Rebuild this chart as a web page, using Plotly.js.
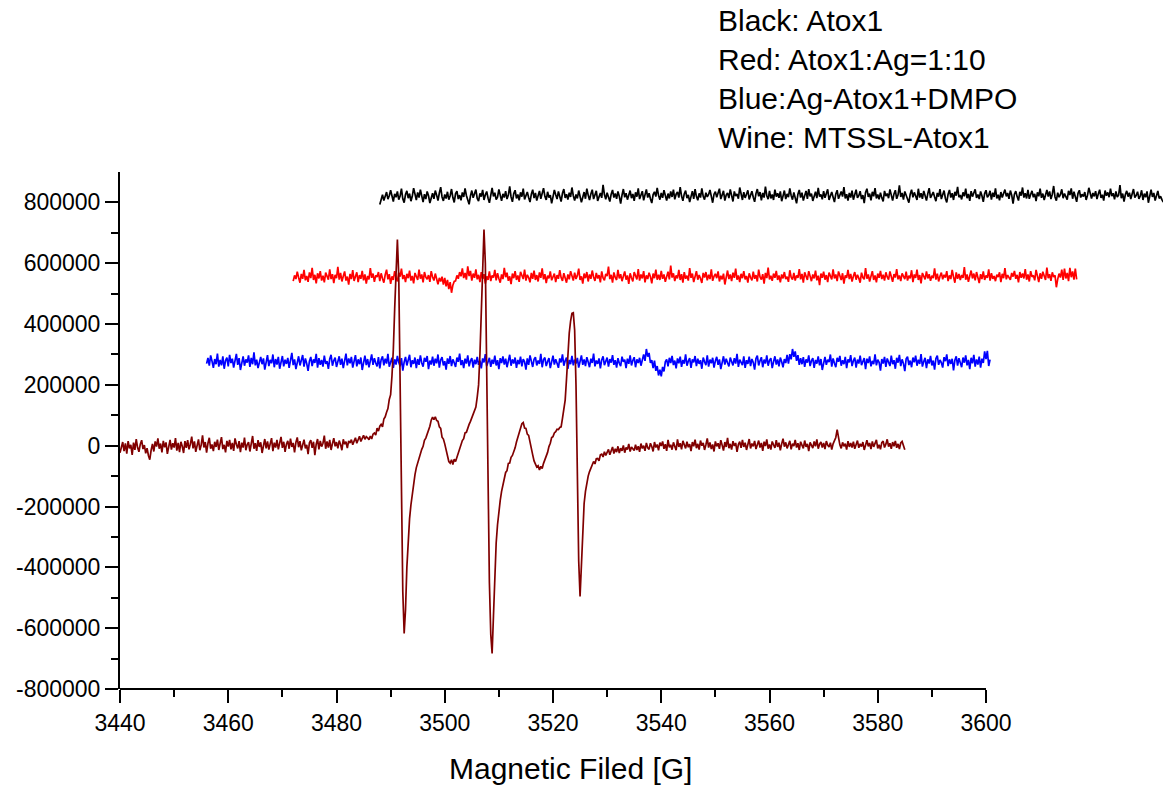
<!DOCTYPE html>
<html>
<head>
<meta charset="utf-8">
<script src="https://cdn.plot.ly/plotly-3.0.1.min.js"></script>
<style>html,body{margin:0;padding:0;background:#fff;}#chart{width:1167px;height:786px;}</style>
</head>
<body>
<div id="chart"></div>
<script>
// Field sweep settings (Gauss) for each spectrum
const fieldStep = 0.25;
const blackStart = 3488;
const redStart = 3472;
const blueStart = 3456;
const wineStart = 3440;

const seriesNames = ["Atox1", "Atox1:Ag=1:10", "Ag-Atox1+DMPO", "MTSSL-Atox1"];
const seriesColors = ["#000000", "#ff0000", "#0000ff", "#800000"];

// Black: Atox1
const blackY = [
793e3,812e3,825e3,806e3,818e3,834e3,811e3,822e3,840e3,815e3,
803e3,828e3,817e3,836e3,809e3,821e3,845e3,812e3,799e3,826e3,
838e3,814e3,829e3,804e3,820e3,847e3,825e3,808e3,833e3,816e3,
842e3,819e3,801e3,827e3,811e3,836e3,822e3,798e3,817e3,830e3,
812e3,839e3,824e3,806e3,831e3,850e3,818e3,805e3,826e3,813e3,
835e3,809e3,822e3,844e3,816e3,800e3,829e3,837e3,811e3,824e3,
807e3,833e3,818e3,846e3,823e3,810e3,794e3,821e3,839e3,815e3,
826e3,842e3,813e3,804e3,830e3,819e3,841e3,808e3,825e3,836e3,
814e3,799e3,823e3,848e3,820e3,832e3,809e3,817e3,843e3,822e3,
805e3,828e3,816e3,837e3,811e3,824e3,853e3,818e3,802e3,829e3,
840e3,813e3,826e3,807e3,833e3,819e3,845e3,810e3,822e3,834e3,
816e3,801e3,827e3,842e3,814e3,831e3,806e3,823e3,838e3,812e3,
829e3,847e3,820e3,808e3,835e3,816e3,824e3,797e3,818e3,841e3,
825e3,811e3,836e3,819e3,803e3,830e3,844e3,815e3,827e3,809e3,
832e3,818e3,849e3,822e3,806e3,826e3,813e3,839e3,821e3,800e3,
817e3,834e3,812e3,845e3,824e3,808e3,828e3,842e3,811e3,823e3,
838e3,805e3,820e3,831e3,815e3,858e3,826e3,810e3,832e3,818e3,
803e3,827e3,841e3,816e3,829e3,812e3,836e3,820e3,796e3,824e3,
844e3,817e3,830e3,809e3,822e3,839e3,814e3,828e3,805e3,833e3,
819e3,846e3,811e3,825e3,837e3,807e3,821e3,843e3,816e3,830e3,
812e3,798e3,826e3,835e3,819e3,848e3,823e3,809e3,831e3,815e3,
840e3,822e3,806e3,829e3,813e3,836e3,818e3,842e3,810e3,827e3,
834e3,816e3,850e3,821e3,805e3,828e3,839e3,814e3,825e3,801e3,
823e3,837e3,812e3,844e3,819e3,807e3,830e3,816e3,846e3,820e3,
809e3,832e3,818e3,826e3,841e3,813e3,799e3,827e3,835e3,817e3,
829e3,845e3,811e3,822e3,838e3,806e3,824e3,831e3,814e3,843e3,
818e3,803e3,836e3,821e3,828e3,812e3,849e3,825e3,808e3,834e3,
815e3,827e3,840e3,810e3,823e3,837e3,817e3,802e3,829e3,844e3,
820e3,834e3,807e3,831e3,816e3,852e3,822e3,811e3,838e3,813e3,
826e3,808e3,842e3,819e3,830e3,815e3,836e3,804e3,821e3,839e3,
811e3,828e3,817e3,846e3,823e3,809e3,833e3,818e3,797e3,827e3,
841e3,816e3,832e3,806e3,825e3,838e3,812e3,844e3,820e3,829e3,
805e3,822e3,835e3,814e3,848e3,819e3,826e3,810e3,837e3,815e3,
830e3,843e3,808e3,821e3,834e3,817e3,801e3,828e3,840e3,812e3,
824e3,836e3,819e3,850e3,813e3,827e3,806e3,831e3,816e3,839e3,
809e3,826e3,842e3,815e3,822e3,837e3,811e3,824e3,798e3,833e3,
845e3,818e3,829e3,807e3,835e3,820e3,847e3,813e3,826e3,810e3,
832e3,815e3,803e3,838e3,821e3,829e3,814e3,843e3,819e3,806e3,
828e3,840e3,812e3,825e3,856e3,818e3,831e3,809e3,836e3,822e3,
814e3,799e3,827e3,842e3,817e3,833e3,821e3,808e3,845e3,816e3,
830e3,812e3,838e3,823e3,806e3,829e3,847e3,815e3,826e3,834e3,
818e3,804e3,831e3,819e3,844e3,811e3,825e3,839e3,813e3,800e3,
827e3,841e3,816e3,830e3,808e3,835e3,822e3,851e3,817e3,824e3,
810e3,833e3,820e3,845e3,814e3,828e3,805e3,837e3,819e3,831e3,
843e3,815e3,826e3,811e3,836e3,822e3,802e3,829e3,840e3,817e3,
823e3,838e3,809e3,832e3,818e3,846e3,813e3,825e3,807e3,834e3,
816e3,829e3,842e3,820e3,831e3,812e3,839e3,824e3,796e3,827e3,
837e3,819e3,806e3,835e3,822e3,849e3,816e3,830e3,813e3,841e3,
812e3,826e3,838e3,817e3,828e3,804e3,833e3,820e3,845e3,815e3,
829e3,808e3,823e3,841e3,819e3,836e3,811e3,827e3,854e3,818e3,
806e3,832e3,817e3,826e3,843e3,814e3,829e3,821e3,809e3,838e3,
824e3,846e3,812e3,835e3,818e3,802e3,830e3,840e3,816e3,827e3,
819e3,834e3,808e3,823e3,848e3,826e3,813e3,831e3,820e3,837e3,
811e3,828e3,842e3,815e3,825e3,806e3,839e3,822e3,833e3,817e3,
845e3,821e3,830e3,810e3,836e3,818e3,824e3,857e3,814e3,829e3,
803e3,826e3,838e3,819e3,832e3,811e3,827e3,844e3,816e3,823e3,
835e3,812e3,821e3,840e3,808e3,829e3,817e3,836e3,799e3,825e3,
842e3,818e3,831e3,806e3,824e3,838e3,813e3,820e3,809e3,801e3
];

// Red: Atox1:Ag=1:10
const redY = [
541e3,560e3,548e3,572e3,553e3,536e3,565e3,549e3,578e3,544e3,
558e3,539e3,570e3,551e3,585e3,545e3,562e3,534e3,567e3,550e3,
574e3,543e3,559e3,537e3,569e3,555e3,546e3,580e3,548e3,564e3,
535e3,562e3,551e3,588e3,546e3,568e3,540e3,557e3,573e3,543e3,
556e3,530e3,565e3,548e3,577e3,542e3,559e3,570e3,538e3,561e3,
549e3,575e3,544e3,563e3,533e3,558e3,547e3,584e3,552e3,566e3,
539e3,560e3,555e3,571e3,541e3,567e3,550e3,536e3,562e3,579e3,
547e3,564e3,532e3,557e3,545e3,574e3,553e3,540e3,569e3,556e3,
582e3,548e3,561e3,538e3,565e3,551e3,576e3,543e3,558e3,534e3,
568e3,552e3,545e3,579e3,549e3,563e3,537e3,571e3,554e3,547e3,
561e3,539e3,574e3,555e3,543e3,566e3,548e3,531e3,552e3,540e3,
556e3,530e3,552e3,524e3,545e3,515e3,538e3,503e3,528e3,540e3,
542e3,560e3,549e3,571e3,557e3,583e3,551e3,568e3,546e3,590e3,
558e3,575e3,543e3,566e3,552e3,580e3,547e3,562e3,538e3,571e3,
549e3,564e3,533e3,557e3,545e3,573e3,541e3,560e3,553e3,578e3,
544e3,567e3,550e3,536e3,563e3,548e3,585e3,554e3,569e3,542e3,
557e3,531e3,566e3,551e3,574e3,545e3,560e3,539e3,572e3,556e3,
548e3,579e3,543e3,562e3,553e3,537e3,568e3,549e3,576e3,545e3,
561e3,540e3,570e3,552e3,583e3,547e3,564e3,535e3,559e3,550e3,
573e3,544e3,558e3,566e3,538e3,561e3,549e3,577e3,553e3,542e3,
567e3,551e3,536e3,563e3,547e3,574e3,556e3,543e3,569e3,548e3,
560e3,582e3,545e3,557e3,533e3,566e3,551e3,571e3,540e3,563e3,
549e3,576e3,555e3,542e3,568e3,550e3,561e3,537e3,573e3,552e3,
544e3,565e3,558e3,589e3,548e3,562e3,536e3,570e3,553e3,545e3,
578e3,550e3,564e3,541e3,557e3,573e3,546e3,560e3,532e3,567e3,
552e3,540e3,571e3,555e3,547e3,581e3,543e3,563e3,550e3,574e3,
537e3,560e3,548e3,569e3,556e3,534e3,566e3,551e3,579e3,546e3,
562e3,545e3,575e3,549e3,563e3,539e3,558e3,572e3,547e3,592e3,
553e3,567e3,541e3,560e3,550e3,578e3,545e3,564e3,536e3,571e3,
549e3,559e3,543e3,584e3,552e3,566e3,538e3,557e3,574e3,546e3,
561e3,550e3,535e3,568e3,553e3,571e3,544e3,562e3,548e3,580e3,
542e3,557e3,565e3,551e3,573e3,540e3,559e3,547e3,566e3,530e3,
555e3,576e3,548e3,563e3,541e3,569e3,552e3,582e3,546e3,560e3,
538e3,565e3,551e3,574e3,547e3,558e3,536e3,567e3,553e3,544e3,
572e3,549e3,561e3,540e3,579e3,555e3,546e3,564e3,533e3,568e3,
551e3,586e3,547e3,559e3,542e3,566e3,552e3,575e3,545e3,560e3,
537e3,563e3,550e3,571e3,548e3,556e3,539e3,577e3,554e3,546e3,
568e3,543e3,560e3,552e3,581e3,547e3,565e3,536e3,570e3,553e3,
545e3,574e3,558e3,541e3,563e3,550e3,576e3,544e3,559e3,528e3,
566e3,552e3,572e3,546e3,561e3,538e3,569e3,555e3,547e3,580e3,
550e3,563e3,541e3,573e3,554e3,545e3,567e3,533e3,560e3,552e3,
578e3,548e3,565e3,540e3,557e3,571e3,546e3,562e3,551e3,536e3,
569e3,553e3,547e3,584e3,549e3,563e3,540e3,558e3,574e3,545e3,
560e3,537e3,566e3,552e3,575e3,548e3,562e3,543e3,570e3,555e3,
546e3,573e3,551e3,539e3,564e3,553e3,581e3,547e3,560e3,541e3,
567e3,555e3,548e3,572e3,543e3,559e3,550e3,577e3,538e3,563e3,
552e3,579e3,545e3,561e3,534e3,568e3,556e3,547e3,573e3,550e3,
564e3,542e3,559e3,551e3,583e3,546e3,566e3,540e3,557e3,569e3,
547e3,562e3,553e3,574e3,541e3,560e3,548e3,578e3,555e3,536e3,
570e3,549e3,565e3,545e3,561e3,552e3,587e3,546e3,563e3,539e3,
558e3,576e3,550e3,566e3,544e3,571e3,553e3,535e3,564e3,548e3,
573e3,545e3,560e3,552e3,580e3,543e3,567e3,549e3,558e3,541e3,
562e3,555e3,570e3,538e3,565e3,551e3,584e3,547e3,561e3,553e3,
545e3,568e3,556e3,575e3,549e3,562e3,537e3,571e3,552e3,566e3,
550e3,581e3,546e3,563e3,540e3,574e3,555e3,560e3,544e3,578e3,
553e3,538e3,567e3,549e3,572e3,557e3,545e3,586e3,551e3,564e3,
542e3,570e3,555e3,560e3,521e3,548e3,566e3,553e3,579e3,545e3,
582e3,550e3,568e3,541e3,585e3,554e3,573e3,546e3,582e3,547e3
];

// Blue: Ag-Atox1+DMPO
const blueY = [
270e3,289e3,263e3,297e3,278e3,256e3,285e3,268e3,303e3,260e3,
282e3,264e3,294e3,253e3,280e3,290e3,261e3,299e3,272e3,286e3,
257e3,281e3,302e3,266e3,288e3,249e3,276e3,294e3,263e3,284e3,
273e3,297e3,259e3,289e3,268e3,307e3,264e3,283e3,255e3,280e3,
292e3,268e3,287e3,250e3,277e3,298e3,262e3,282e3,271e3,300e3,
258e3,285e3,267e3,292e3,253e3,279e3,295e3,261e3,283e3,269e3,
289e3,256e3,277e3,305e3,265e3,284e3,252e3,280e3,294e3,264e3,
281e3,298e3,260e3,287e3,270e3,246e3,278e3,292e3,262e3,284e3,
272e3,302e3,257e3,288e3,266e3,282e3,260e3,296e3,269e3,278e3,
253e3,285e3,299e3,263e3,280e3,290e3,259e3,276e3,294e3,266e3,
286e3,255e3,279e3,303e3,264e3,287e3,271e3,292e3,257e3,281e3,
298e3,261e3,284e3,268e3,290e3,249e3,277e3,296e3,265e3,285e3,
258e3,280e3,300e3,266e3,288e3,272e3,261e3,291e3,254e3,283e3,
294e3,264e3,286e3,270e3,302e3,260e3,279e3,289e3,256e3,284e3,
267e3,295e3,274e3,261e3,288e3,247e3,275e3,292e3,264e3,283e3,
299e3,258e3,281e3,269e3,290e3,255e3,285e3,266e3,297e3,272e3,
260e3,289e3,276e3,295e3,252e3,280e3,267e3,293e3,263e3,286e3,
271e3,300e3,257e3,282e3,291e3,264e3,278e3,250e3,287e3,269e3,
295e3,262e3,284e3,273e3,259e3,290e3,276e3,303e3,265e3,281e3,
255e3,286e3,270e3,297e3,261e3,279e3,288e3,257e3,283e3,268e3,
292e3,266e3,280e3,254e3,287e3,274e3,301e3,262e3,278e3,289e3,
259e3,283e3,269e3,296e3,264e3,281e3,252e3,288e3,272e3,294e3,
267e3,286e3,258e3,279e3,299e3,263e3,284e3,270e3,290e3,256e3,
282e3,268e3,293e3,261e3,285e3,276e3,250e3,287e3,266e3,297e3,
273e3,259e3,284e3,291e3,264e3,280e3,269e3,302e3,258e3,283e3,
290e3,262e3,277e3,288e3,255e3,281e3,296e3,267e3,284e3,271e3,
256e3,287e3,274e3,300e3,263e3,279e3,290e3,253e3,282e3,268e3,
295e3,264e3,283e3,270e3,289e3,257e3,278e3,297e3,266e3,284e3,
262e3,291e3,275e3,258e3,286e3,272e3,303e3,261e3,280e3,269e3,
287e3,254e3,282e3,294e3,265e3,279e3,290e3,260e3,285e3,273e3,
298e3,266e3,281e3,257e3,288e3,271e3,262e3,293e3,276e3,283e3,
255e3,286e3,269e3,297e3,264e3,280e3,291e3,258e3,284e3,272e3,
289e3,263e3,284e3,300e3,279e3,318e3,293e3,305e3,272e3,281e3,
255e3,280e3,246e3,262e3,231e3,250e3,228e3,259e3,244e3,276e3,
284e3,261e3,289e3,272e3,295e3,265e3,280e3,254e3,287e3,271e3,
293e3,259e3,282e3,270e3,300e3,263e3,278e3,288e3,256e3,284e3,
274e3,295e3,262e3,286e3,269e3,281e3,253e3,290e3,276e3,265e3,
297e3,260e3,283e3,271e3,289e3,257e3,279e3,292e3,266e3,284e3,
252e3,280e3,294e3,267e3,286e3,273e3,261e3,290e3,278e3,264e3,
288e3,270e3,302e3,259e3,283e3,275e3,265e3,294e3,256e3,281e3,
269e3,293e3,262e3,285e3,274e3,250e3,287e3,296e3,264e3,279e3,
291e3,258e3,283e3,270e3,297e3,263e3,281e3,288e3,255e3,276e3,
294e3,267e3,284e3,261e3,290e3,276e3,258e3,285e3,272e3,299e3,
270e3,301e3,284e3,318e3,292e3,310e3,279e3,298e3,266e3,288e3,
268e3,291e3,259e3,284e3,273e3,297e3,262e3,279e3,288e3,256e3,
282e3,270e3,294e3,264e3,285e3,249e3,278e3,292e3,266e3,283e3,
275e3,300e3,260e3,287e3,271e3,258e3,289e3,276e3,295e3,263e3,
281e3,268e3,292e3,255e3,284e3,274e3,298e3,262e3,279e3,290e3,
257e3,283e3,270e3,296e3,265e3,280e3,288e3,252e3,286e3,272e3,
294e3,261e3,279e3,268e3,300e3,264e3,283e3,274e3,247e3,285e3,
270e3,292e3,259e3,287e3,276e3,262e3,296e3,268e3,281e3,253e3,
289e3,273e3,299e3,262e3,284e3,270e3,245e3,286e3,293e3,265e3,
280e3,258e3,290e3,274e3,296e3,263e3,283e3,269e3,301e3,260e3,
277e3,289e3,255e3,284e3,270e3,295e3,264e3,280e3,250e3,287e3,
296e3,266e3,282e3,273e3,257e3,291e3,278e3,300e3,262e3,284e3,
269e3,286e3,248e3,281e3,294e3,263e3,288e3,275e3,258e3,290e3,
273e3,297e3,264e3,282e3,252e3,289e3,271e3,299e3,260e3,284e3,
267e3,293e3,257e3,286e3,272e3,310e3,285e3,312e3,262e3,283e3
];

// Wine: MTSSL-Atox1
const wineY = [
-23e3,-5e3,12e3,-18e3,8e3,-26e3,15e3,-9e3,3e3,-30e3,
10e3,-14e3,22e3,-6e3,-20e3,5e3,18e3,-11e3,2e3,-25e3,
-8e3,-32e3,-46e3,-15e3,6e3,-19e3,14e3,-3e3,24e3,-10e3,
7e3,-22e3,16e3,-5e3,11e3,-27e3,4e3,19e3,-13e3,8e3,
-6e3,25e3,-16e3,9e3,-21e3,13e3,-2e3,-24e3,15e3,-7e3,
18e3,-12e3,5e3,30e3,-9e3,14e3,-20e3,6e3,21e3,-15e3,
2e3,34e3,-6e3,12e3,-23e3,8e3,26e3,-10e3,4e3,-18e3,
13e3,-4e3,20e3,-14e3,7e3,28e3,-11e3,3e3,-22e3,16e3,
-3e3,19e3,-12e3,9e3,-17e3,24e3,5e3,-9e3,15e3,-21e3,
10e3,-6e3,27e3,-15e3,4e3,12e3,-19e3,7e3,32e3,-10e3,
8e3,-17e3,18e3,-4e3,11e3,-24e3,5e3,22e3,-9e3,14e3,
-13e3,3e3,25e3,-18e3,10e3,-6e3,19e3,-12e3,7e3,29e3,
-7e3,13e3,-20e3,5e3,16e3,-10e3,23e3,-4e3,9e3,-22e3,
11e3,27e3,-5e3,15e3,-15e3,6e3,20e3,-9e3,3e3,-28e3,
10e3,18e3,-7e3,13e3,-31e3,5e3,22e3,-12e3,16e3,-3e3,
8e3,33e3,-10e3,14e3,-6e3,19e3,-14e3,7e3,25e3,-2e3,
12e3,-9e3,17e3,4e3,-15e3,21e3,5e3,13e3,-8e3,16e3,
9e3,20e3,3e3,15e3,26e3,8e3,19e3,31e3,14e3,25e3,
34e3,21e3,30e3,26e3,
20e3,32e3,22e3,38e3,42e3,35e3,58e3,48e3,64e3,70e3,
62e3,88e3,95e3,110e3,122e3,152e3,168e3,230e3,316e3,450e3,
600e3,678e3,560e3,250e3,-178e3,-480e3,-617e3,-540e3,-400e3,-300e3,
-240e3,-195e3,-160e3,-120e3,-95e3,-72e3,-55e3,-38e3,-26e3,-12e3,
-2e3,18e3,25e3,38e3,48e3,64e3,84e3,94e3,86e3,95e3,
83e3,80e3,62e3,57e3,28e3,22e3,6e3,-12e3,-33e3,-52e3,
-57e3,-46e3,-62e3,-44e3,-52e3,-38e3,-22e3,-3e3,6e3,17e3,
23e3,42e3,44e3,62e3,70e3,80e3,93e3,102e3,113e3,127e3,
160e3,200e3,300e3,460e3,620e3,711e3,600e3,250e3,-150e3,-450e3,
-620e3,-683e3,-560e3,-420e3,-320e3,-260e3,-210e3,-180e3,-150e3,-125e3,
-110e3,-88e3,-82e3,-58e3,-57e3,-38e3,-32e3,-20e3,-7e3,12e3,
26e3,42e3,53e3,72e3,76e3,58e3,57e3,38e3,34e3,8e3,
-5e3,-30e3,-50e3,-60e3,-70e3,-66e3,-80e3,-68e3,-75e3,-58e3,
-47e3,-33e3,-22e3,-3e3,8e3,27e3,30e3,42e3,46e3,54e3,
53e3,60e3,62e3,90e3,120e3,150e3,220e3,300e3,370e3,410e3,
435e3,437e3,380e3,200e3,-100e3,-380e3,-496e3,-400e3,-260e3,-190e3,
-150e3,-120e3,-100e3,-85e3,-75e3,-62e3,-52e3,-60e3,-43e3,-42e3,
-50e3,-30e3,-28e3,-37e3,-20e3,-32e3,-18e3,
-12e3,-30e3,-15e3,-4e3,-26e3,-10e3,-21e3,-2e3,-24e3,-8e3,
-17e3,1e3,-23e3,-6e3,-13e3,6e3,-19e3,-4e3,-10e3,-16e3,
3e3,-14e3,-2e3,-20e3,7e3,-9e3,0,-17e3,9e3,-7e3,
-12e3,8e3,-3e3,-19e3,12e3,-6e3,4e3,-15e3,10e3,-1e3,
14e3,-10e3,5e3,-17e3,19e3,-5e3,3e3,-13e3,11e3,0,
-15e3,21e3,-4e3,8e3,-12e3,16e3,1e3,-9e3,13e3,-5e3,
5e3,-18e3,12e3,-2e3,20e3,-8e3,6e3,-13e3,17e3,0,
9e3,-14e3,3e3,24e3,-6e3,11e3,-11e3,4e3,-19e3,14e3,
-2e3,8e3,-10e3,18e3,2e3,-16e3,12e3,-4e3,26e3,-8e3,
6e3,-13e3,15e3,-1e3,9e3,-20e3,4e3,13e3,-7e3,19e3,
-4e3,10e3,-14e3,3e3,22e3,-9e3,7e3,-2e3,16e3,-11e3,
2e3,17e3,-6e3,9e3,-17e3,13e3,-1e3,21e3,-10e3,4e3,
-13e3,14e3,3e3,-7e3,18e3,-4e3,10e3,-15e3,6e3,23e3,
-3e3,11e3,-9e3,4e3,16e3,-12e3,7e3,-1e3,19e3,-6e3,
8e3,-14e3,13e3,2e3,-9e3,17e3,-4e3,6e3,-18e3,11e3,
3e3,-8e3,14e3,-2e3,21e3,-10e3,5e3,12e3,-6e3,9e3,
-11e3,15e3,2e3,-4e3,10e3,-13e3,6e3,18e3,27e3,53e3,
20e3,3e3,-9e3,11e3,-2e3,7e3,-13e3,15e3,-4e3,9e3,
-6e3,13e3,-10e3,3e3,17e3,-7e3,6e3,-3e3,12e3,-14e3,
4e3,18e3,-2e3,9e3,-11e3,14e3,-4e3,7e3,19e3,-9e3,
3e3,-12e3,10e3,15e3,-6e3,5e3,21e3,-3e3,8e3,-10e3,
12e3,-2e3,16e3,-7e3,6e3,-11e3,9e3,14e3,-4e3,-13e3
];

// Axis ticks
const xTickVals = [3440, 3460, 3480, 3500, 3520, 3540, 3560, 3580, 3600];
const xMinorVals = [3450, 3470, 3490, 3510, 3530, 3550, 3570, 3590];
const yTickVals = [-800000, -600000, -400000, -200000, 0, 200000, 400000, 600000, 800000];
const yMinorVals = [-700000, -500000, -300000, -100000, 100000, 300000, 500000, 700000];

const xAxisTitle = "Magnetic Filed [G]";
const noteLines = ["Black: Atox1", "Red: Atox1:Ag=1:10", "Blue:Ag-Atox1+DMPO", "Wine: MTSSL-Atox1"];

function sweep(start, step, ys) { return ys.map((_, i) => start + i * step); }

const FONT = "Liberation Sans, Arial, Helvetica, sans-serif";
const defs = [
  [blackStart, blackY],
  [redStart, redY],
  [blueStart, blueY],
  [wineStart, wineY]
];
const traces = defs.map((d, i) => ({
  type: "scatter", mode: "lines", name: seriesNames[i],
  x: sweep(d[0], fieldStep, d[1]), y: d[1],
  line: {color: seriesColors[i], width: 1.7},
  hoverinfo: "skip"
}));

const plotLeft = 120, plotRight = 1163, pxPerG = 866 / 160;
const xMax = 3440 + (plotRight - plotLeft) / pxPerG;

const layout = {
  width: 1167, height: 786,
  margin: {l: 120, r: 4, t: 172, b: 97, pad: 0},
  paper_bgcolor: "#ffffff", plot_bgcolor: "#ffffff",
  showlegend: false,
  font: {family: FONT, color: "#000000"},
  xaxis: {
    range: [3440, xMax], showline: false, showgrid: false, zeroline: false,
    tickmode: "array", tickvals: xTickVals, ticktext: xTickVals.map(String),
    ticks: "outside", ticklen: 13, tickwidth: 2, tickcolor: "#000000",
    tickfont: {family: FONT, size: 23, color: "#000000"},
    minor: {tickmode: "array", tickvals: xMinorVals, ticks: "outside", ticklen: 7, tickwidth: 2, tickcolor: "#000000", showgrid: false}
  },
  yaxis: {
    range: [-800000, 900000], showline: true, linewidth: 2, linecolor: "#000000",
    showgrid: false, zeroline: false,
    tickmode: "array", tickvals: yTickVals, ticktext: yTickVals.map(String),
    ticks: "outside", ticklen: 13, tickwidth: 2, tickcolor: "#000000",
    tickfont: {family: FONT, size: 23, color: "#000000"},
    minor: {tickmode: "array", tickvals: yMinorVals, ticks: "outside", ticklen: 7, tickwidth: 2, tickcolor: "#000000", showgrid: false}
  },
  shapes: [{
    type: "line", xref: "x", yref: "paper", x0: xTickVals[0], x1: xTickVals[xTickVals.length - 1], y0: 0, y1: 0,
    line: {color: "#000000", width: 2}, layer: "above"
  }],
  annotations: [
    {
      xref: "paper", yref: "paper", x: (570 - plotLeft) / (plotRight - plotLeft), y: (689 - 768) / 517,
      xanchor: "center", yanchor: "middle", showarrow: false,
      text: xAxisTitle, font: {family: FONT, size: 30, color: "#000000"}
    },
    {
      xref: "paper", yref: "paper", x: (716 - plotLeft) / (plotRight - plotLeft), y: (689 - 2) / 517,
      xanchor: "left", yanchor: "top", align: "left", showarrow: false,
      text: noteLines.join("<br>"), font: {family: FONT, size: 30, color: "#000000"}
    }
  ]
};

Plotly.newPlot("chart", traces, layout, {displayModeBar: false, staticPlot: true});
</script>
</body>
</html>
